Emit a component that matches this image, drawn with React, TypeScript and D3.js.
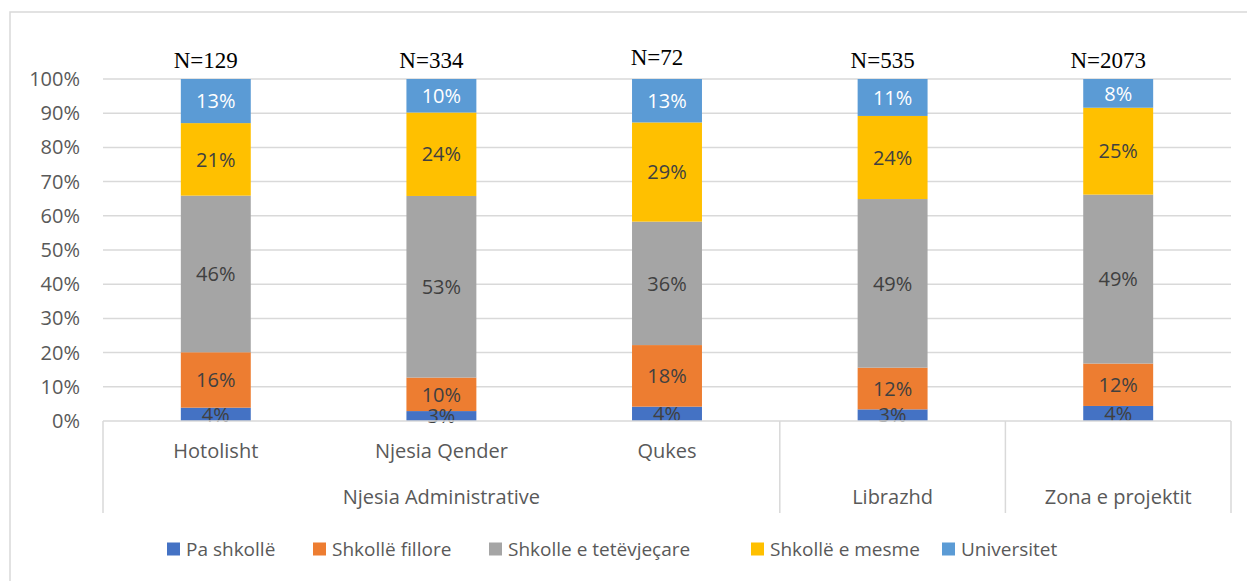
import React from 'react';
import * as d3 from 'd3';

// categories (level 1 labels) and their parent groups (level 2)
const categories = ['Hotolisht', 'Njesia Qender', 'Qukes', 'Librazhd', 'Zona e projektit'];
const subLabels = ['Hotolisht', 'Njesia Qender', 'Qukes', '', ''];
const groupLabels = ['Njesia Administrative', 'Librazhd', 'Zona e projektit'];
const groupSizes = [3, 1, 1];
const sampleSizes = [129, 334, 72, 535, 2073];

// share of each education level (%)
const paShkolle = [3.9, 2.9, 4.2, 3.4, 4.4];
const fillore = [16.2, 9.8, 18.0, 12.2, 12.4];
const tetevjecare = [45.8, 53.1, 36.1, 49.3, 49.4];
const mesme = [21.2, 24.4, 29.0, 24.3, 25.4];
const universitet = [12.9, 9.8, 12.7, 10.8, 8.4];

const seriesNames = ['Pa shkollë', 'Shkollë fillore', 'Shkolle e tetëvjeçare', 'Shkollë e mesme', 'Universitet'];
const seriesValues = [paShkolle, fillore, tetevjecare, mesme, universitet];
const colors = ['#4472C4', '#ED7D31', '#A5A5A5', '#FFC000', '#5B9BD5'];
const yTicks = [0, 10, 20, 30, 40, 50, 60, 70, 80, 90, 100];

const W = 1247;
const H = 581;
const sans = '"Open Sans", "Noto Sans", sans-serif';
const grid = '#d9d9d9';

const App: React.FC = () => {
    const x = d3.scaleBand<string>()
        .domain(categories)
        .range([103, 1231])
        .paddingInner(0.69)
        .paddingOuter(0.345);

    const y = d3.scaleLinear().domain([0, 100]).range([421, 79]);

    const rows = categories.map((c, i) => {
        const r: any = { cat: c };
        seriesNames.forEach((s, j) => { r[s] = seriesValues[j][i]; });
        return r;
    });
    const stacked = d3.stack<any>().keys(seriesNames)(rows);

    // group boundaries on the category axis
    const step = x.step();
    const x0 = x.range()[0];
    let acc = 0;
    const groups = groupLabels.map((g, i) => {
        const start = acc;
        acc += groupSizes[i];
        return { label: g, x1: x0 + start * step, x2: x0 + acc * step };
    });

    const legendX = [167, 313, 489, 751, 942];
    const mid = (c: string) => (x(c) as number) + x.bandwidth() / 2;

    return (
        <svg width={W} height={H} style={{ position: 'absolute', left: 0, top: 0, background: '#fff' }}>
            <rect x={10} y={12} width={1260} height={600} fill="#fff" stroke={grid} strokeWidth={1.5} />

            {/* gridlines + y ticks */}
            {yTicks.map(t => (
                <g key={t}>
                    {t > 0 && <line x1={103} x2={1231} y1={y(t)} y2={y(t)} stroke={grid} strokeWidth={1.5} />}
                    <text x={80} y={y(t)} dy="0.35em" textAnchor="end" fontFamily={sans} fontSize={20} fill="#595959">{t}%</text>
                </g>
            ))}

            {/* bars */}
            {stacked.map((layer, j) => (
                <g key={layer.key}>
                    {layer.map((d, i) => (
                        <rect key={i} x={x(categories[i])} width={x.bandwidth()}
                            y={y(d[1])} height={y(d[0]) - y(d[1])} fill={colors[j]} />
                    ))}
                </g>
            ))}

            {/* data labels */}
            {stacked.map((layer, j) => (
                <g key={'l' + layer.key}>
                    {layer.map((d, i) => (
                        <text key={i} x={mid(categories[i])}
                            y={(y(d[0]) + y(d[1])) / 2} dy="0.36em" textAnchor="middle"
                            fontFamily={sans} fontSize={20} fill={j === 4 ? '#ffffff' : '#404040'}>
                            {Math.round(d[1] - d[0])}%
                        </text>
                    ))}
                </g>
            ))}

            {/* N labels (hand-placed text boxes, sit a bit left of the bars) */}
            {categories.map((c, i) => (
                <text key={c} x={mid(c) - 10} y={i === 2 ? 65 : 68} textAnchor="middle"
                    fontFamily='"Liberation Serif", "Times New Roman", serif' fontSize={23} fill="#000">
                    N={sampleSizes[i]}
                </text>
            ))}

            {/* category axis */}
            <line x1={103} x2={1231} y1={421} y2={421} stroke={grid} strokeWidth={1.5} />
            {[groups[0].x1, ...groups.map(g => g.x2)].map((gx, i) => (
                <line key={i} x1={gx} x2={gx} y1={421} y2={513} stroke={grid} strokeWidth={1.5} />
            ))}
            {subLabels.map((s, i) => s && (
                <text key={s} x={mid(categories[i])} y={458} textAnchor="middle"
                    fontFamily={sans} fontSize={20} fill="#595959">{s}</text>
            ))}
            {groups.map(g => (
                <text key={g.label} x={(g.x1 + g.x2) / 2} y={504} textAnchor="middle"
                    fontFamily={sans} fontSize={20} fill="#595959">{g.label}</text>
            ))}

            {/* legend */}
            {seriesNames.map((s, j) => (
                <g key={s} transform={`translate(${legendX[j]},549)`}>
                    <rect x={0} y={-6.5} width={13} height={13} fill={colors[j]} />
                    <text x={19} y={0} dy="0.35em" fontFamily={sans} fontSize={19} fill="#595959">{s}</text>
                </g>
            ))}
        </svg>
    );
};

export default App;
